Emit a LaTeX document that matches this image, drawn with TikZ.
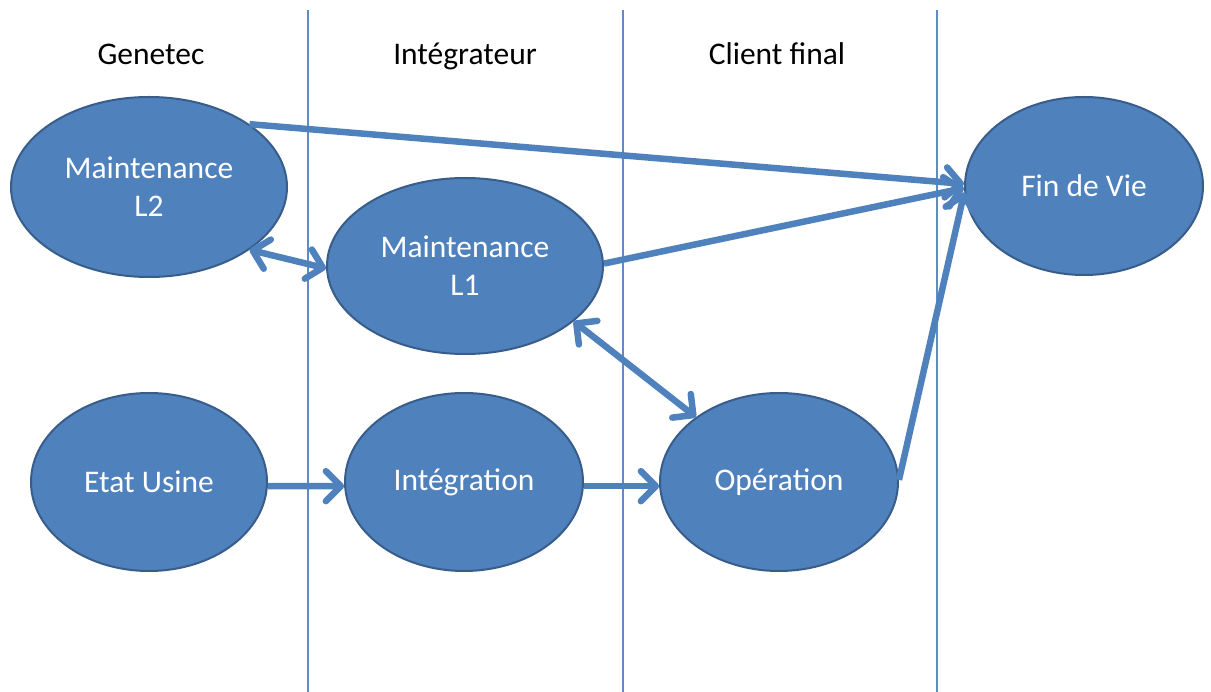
\documentclass[tikz,border=0pt]{standalone}
\usepackage{fontspec}
\setmainfont{Carlito}
\usetikzlibrary{shapes.geometric,arrows.meta}
\definecolor{phasefill}{RGB}{79,129,189}
\definecolor{phaseedge}{RGB}{56,93,138}
\definecolor{flow}{RGB}{79,129,189}
\definecolor{lanecol}{RGB}{96,140,196}
\tikzset{
  phase/.style={ellipse, draw=phaseedge, line width=2pt, fill=phasefill,
    text=white, inner sep=0pt, align=center,
    font=\fontsize{31.5}{38}\selectfont},
  lane/.style={draw=lanecol, line width=1.3pt},
  lanehead/.style={font=\fontsize{31.5}{38}\selectfont, text=black, anchor=base},
  tip/.tip={Straight Barb[length=15pt,width=30pt,round]},
  link/.style={draw=flow, line width=6.5pt, -tip},
  duallink/.style={draw=flow, line width=6.5pt, tip-tip},
}
\begin{document}
\begin{tikzpicture}[x=1pt,y=-1pt]
\useasboundingbox (0,0) rectangle (1211,692);

% swim-lane separators
\coordinate (s1t) at (308,10); \coordinate (s1b) at (308,692);
\coordinate (s2t) at (623,10); \coordinate (s2b) at (623,692);
\coordinate (s3t) at (937,10); \coordinate (s3b) at (937,692);
\draw[lane] (s1t) -- (s1b);
\draw[lane] (s2t) -- (s2b);
\draw[lane] (s3t) -- (s3b);

% lane titles
\node[lanehead] (hgen) at (151,65) {Genetec};
\node[lanehead] (hint) at (465,65) {Intégrateur};
\node[lanehead] (hcli) at (777,65) {Client final};

% lifecycle phases
\node[phase, minimum width=276pt, minimum height=180pt] (l2) at (149,187) {Maintenance\\L2};
\node[phase, minimum width=276pt, minimum height=176pt] (l1) at (465,266) {Maintenance\\L1};
\node[phase, minimum width=238pt, minimum height=178pt] (fin) at (1084,186) {Fin de Vie};
\node[phase, minimum width=236pt, minimum height=178pt] (usine) at (149,482) {Etat Usine};
\node[phase, minimum width=238pt, minimum height=178pt] (integ) at (464,482) {Intégration};
\node[phase, minimum width=238pt, minimum height=178pt] (oper) at (779,482) {Opération};

% transitions
\draw[duallink] (l2.-32) -- (l1.181);
\draw[link] (l2.32.5) -- (fin.179.5);
\draw[link] (l1.1) -- (fin.181);
\draw[duallink] (l1.-27) -- (oper.142);
\draw[link] (oper.1) -- (fin.183);
\draw[link] (usine.-2.4) -- (integ.182.4);
\draw[link] (integ.-2.4) -- (oper.182.4);
\end{tikzpicture}
\end{document}
